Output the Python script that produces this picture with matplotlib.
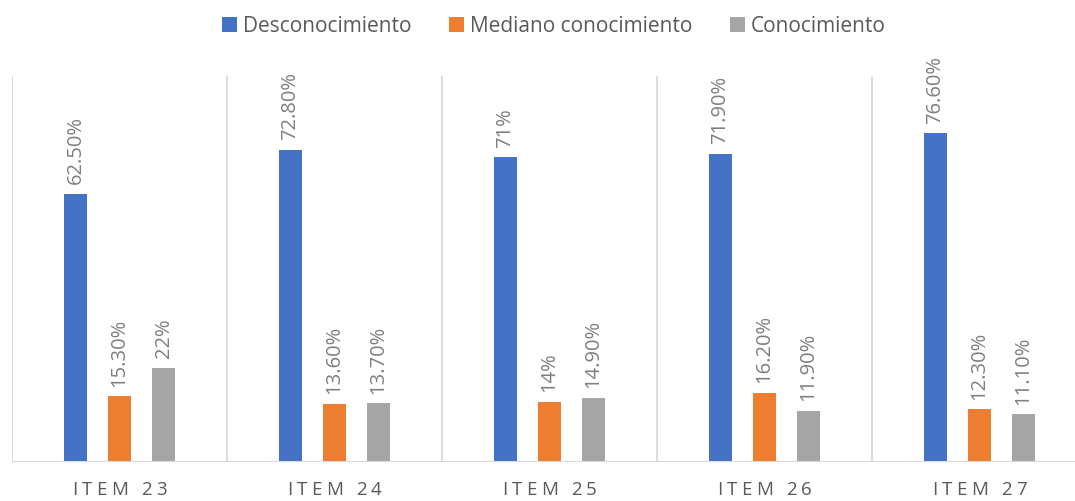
import matplotlib.pyplot as plt
import numpy as np

items = ['ITEM 23', 'ITEM 24', 'ITEM 25', 'ITEM 26', 'ITEM 27']
series = ['Desconocimiento', 'Mediano conocimiento', 'Conocimiento']
desconocimiento = [62.5, 72.8, 71, 71.9, 76.6]
mediano = [15.3, 13.6, 14, 16.2, 12.3]
conocimiento = [22, 13.7, 14.9, 11.9, 11.1]

colors = ['#4472C4', '#ED7D31', '#A5A5A5']
plt.rcParams['font.family'] = ['Open Sans', 'DejaVu Sans']


def pct(v):
    if float(v).is_integer():
        return f'{int(v)}%'
    return f'{v:.2f}%'


fig = plt.figure(figsize=(10.75, 5.01), dpi=100)
ax = fig.add_axes([12 / 1075, 1 - 462 / 501, 1063 / 1075, 386 / 501])

x = np.arange(len(items))
offsets = [-0.205, 0, 0.205]
width = 0.107
for vals, off, col, name in zip([desconocimiento, mediano, conocimiento], offsets, colors, series):
    bars = ax.bar(x + off, vals, width, color=col, label=name, zorder=3)
    for b, v in zip(bars, vals):
        ax.annotate(pct(v), (b.get_x() + b.get_width() / 2, v), xytext=(0, 7),
                    textcoords='offset points', rotation=90, ha='center', va='bottom',
                    fontsize=14.5, color='#7F7F7F')

ax.set_xlim(-0.5, -0.5 + 1063 / 215)
ax.set_ylim(0, 90)

# category separators
for b in np.arange(-0.5, len(items) - 0.5, 1):
    ax.axvline(b, color='#D9D9D9', lw=1.3, zorder=1)
ax.axhline(0, color='#D9D9D9', lw=1.5, zorder=4)

for s in ax.spines.values():
    s.set_visible(False)
ax.set_yticks([])
ax.set_xticks([])

# category labels with wide letter spacing, one character at a time
renderer = fig.canvas.get_renderer()
lab_size = 13.5
tracking = 4.2


def char_width(ch):
    if ch == ' ':
        a = fig.text(0, 0, 'a a', fontsize=lab_size)
        b = fig.text(0, 0, 'aa', fontsize=lab_size)
        w = a.get_window_extent(renderer).width - b.get_window_extent(renderer).width
        a.remove()
        b.remove()
        return w
    t = fig.text(0, 0, ch, fontsize=lab_size)
    w = t.get_window_extent(renderer).width
    t.remove()
    return w


fig_w = fig.get_figwidth() * fig.dpi
y_lab = 1 - 490 / 501
for i, lab in enumerate(items):
    cx = ax.transData.transform((x[i], 0))[0]
    widths = [char_width(c) for c in lab]
    total = sum(widths) + tracking * (len(lab) - 1)
    px = cx - total / 2
    for c, w in zip(lab, widths):
        if c != ' ':
            fig.text(px / fig_w, y_lab, c, fontsize=lab_size, color='#595959',
                     ha='left', va='center')
        px += w + tracking

fig.legend(loc='center', bbox_to_anchor=(554 / 1075, 1 - 26 / 501), ncol=3, frameon=False,
           fontsize=15, labelcolor='#595959', handlelength=0.7, handleheight=0.7,
           handletextpad=0.3, columnspacing=1.8)

fig.savefig('out.png', dpi=100)
